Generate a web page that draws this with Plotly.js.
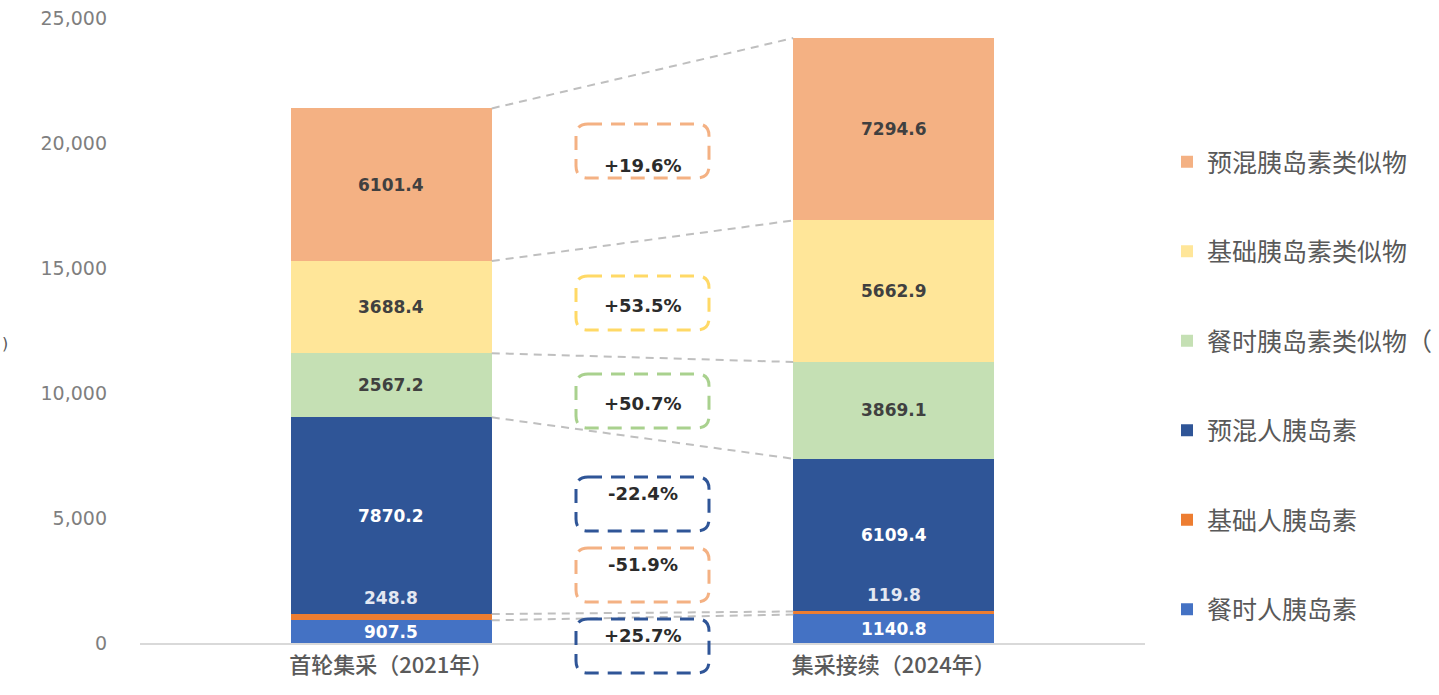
<!DOCTYPE html>
<html>
<head>
<meta charset="utf-8">
<script src="https://cdn.plot.ly/plotly-3.0.1.min.js"></script>
<style>html,body{margin:0;padding:0;background:#fff;}#chart{width:1439px;height:695px;}</style>
</head>
<body>
<div id="chart"></div>
<script>
// ---- data ----
const categories = ['首轮集采（2021年）', '集采接续（2024年）'];
const seriesNames = ['餐时人胰岛素', '基础人胰岛素', '预混人胰岛素', '餐时胰岛素类似物（', '基础胰岛素类似物', '预混胰岛素类似物'];
const mealHuman = [907.5, 1140.8];
const basalHuman = [248.8, 119.8];
const premixHuman = [7870.2, 6109.4];
const mealAnalog = [2567.2, 3869.1];
const basalAnalog = [3688.4, 5662.9];
const premixAnalog = [6101.4, 7294.6];
// change 2021 -> 2024 per series (%), as printed on the chart
const changePct = [25.7, -51.9, -22.4, 50.7, 53.5, 19.6];
const yTicks = [0, 5000, 10000, 15000, 20000, 25000];

// ---- styles ----
const colors = ['#4472C4', '#ED7D31', '#2F5597', '#C5E0B4', '#FFE699', '#F4B183'];
const boxColors = ['#2F5597', '#F4B183', '#2F5597', '#A9D18E', '#FFD966', '#F4B183'];
const labelColors = ['#FFFFFF', '#E4E8F2', '#FFFFFF', '#404040', '#404040', '#404040'];
const boxCentersPx = [646, 575, 504, 401, 303, 151]; // vertical pixel centres of the change boxes

const series = [mealHuman, basalHuman, premixHuman, mealAnalog, basalAnalog, premixAnalog];
const barWidth = 0.4;

// plot area geometry (pixels)
const M = {l: 140, r: 294, t: 18, b: 52};
const W = 1439, H = 695;
const PW = W - M.l - M.r, PH = H - M.t - M.b;
const pxToPaperY = py => (H - M.b - py) / PH;

const traces = series.map((vals, i) => ({
  type: 'bar',
  name: seriesNames[i],
  x: [0, 1],
  y: vals,
  width: barWidth,
  marker: {color: colors[i], line: {width: 0}},
  legendgroup: 'g' + i,
  legendrank: 100 - i,
  hoverinfo: 'skip'
}));

// cumulative tops
const cum = [];
let run = [0, 0];
series.forEach((vals, i) => {
  const bottoms = run.slice();
  run = run.map((r, k) => r + vals[k]);
  cum.push({bottom: bottoms, top: run.slice()});
});

const annotations = [];
// value labels
series.forEach((vals, i) => {
  vals.forEach((v, k) => {
    if (i === 1) {
      annotations.push({
        x: k, y: cum[i].top[k], xref: 'x', yref: 'y', yanchor: 'bottom', yshift: 4,
        text: v.toFixed(1), showarrow: false,
        font: {family: 'DejaVu Sans', size: 17, color: labelColors[i], weight: 'bold'}
      });
    } else {
      annotations.push({
        x: k, y: (cum[i].bottom[k] + cum[i].top[k]) / 2, xref: 'x', yref: 'y',
        text: v.toFixed(1), showarrow: false,
        font: {family: 'DejaVu Sans', size: 17, color: labelColors[i], weight: 'bold'}
      });
    }
  });
});

const shapes = [];
// connector lines between stacks
cum.forEach(c => {
  shapes.push({
    type: 'line', xref: 'x', yref: 'y',
    x0: barWidth / 2, x1: 1 - barWidth / 2, y0: c.top[0], y1: c.top[1],
    line: {color: '#BFBFBF', width: 2, dash: '8px,6px'}
  });
});

// change boxes
const boxW = 133, boxH = 54, rad = 12;
changePct.forEach((pct, i) => {
  const txt = (pct >= 0 ? '+' : '') + pct.toFixed(1) + '%';
  const cy = pxToPaperY(boxCentersPx[i]);
  const cx = 0.5;
  const hx = boxW / 2 / PW, hy = boxH / 2 / PH;
  const rx = rad / PW, ry = rad / PH;
  const xl = cx - hx, xr = cx + hx, yt = cy + hy, yb = cy - hy;
  const p = `M${xl + rx},${yt} L${xr - rx},${yt} Q${xr},${yt} ${xr},${yt - ry} L${xr},${yb + ry} Q${xr},${yb} ${xr - rx},${yb} L${xl + rx},${yb} Q${xl},${yb} ${xl},${yb + ry} L${xl},${yt - ry} Q${xl},${yt} ${xl + rx},${yt} Z`;
  shapes.push({
    type: 'path', xref: 'paper', yref: 'paper', path: p,
    line: {color: boxColors[i], width: 3, dash: '14px,9px'}
  });
  annotations.push({
    x: cx, y: cy, xref: 'paper', yref: 'paper', yshift: -2, text: txt, showarrow: false,
    font: {family: 'DejaVu Sans', size: 18, color: '#2B2B2B', weight: 'bold'}
  });
});

// cropped remnant of the y-axis title at the left edge
annotations.push({
  x: -M.l / PW, y: pxToPaperY(343), xref: 'paper', yref: 'paper', xanchor: 'left',
  text: ')', showarrow: false, font: {family: 'DejaVu Sans', size: 16, color: '#595959'}
});

const layout = {
  width: W, height: H,
  margin: M,
  paper_bgcolor: '#FFFFFF', plot_bgcolor: '#FFFFFF',
  barmode: 'stack',
  showlegend: true,
  xaxis: {
    range: [-0.5, 1.5], tickvals: [0, 1], ticktext: categories,
    showline: true, linecolor: '#D9D9D9', linewidth: 1.5,
    showgrid: false, zeroline: false, ticks: '', ticklabelstandoff: 2,
    tickfont: {family: 'Noto Sans CJK SC', size: 22, color: '#5A5A5A', weight: 500},
    fixedrange: true
  },
  yaxis: {
    range: [0, 25000], tickvals: yTicks, tickformat: ',',
    showgrid: false, zeroline: false, showline: false, ticks: '',
    ticklabelstandoff: 32,
    tickfont: {family: 'DejaVu Sans', size: 19, color: '#7F7F7F'},
    fixedrange: true
  },
  legend: {
    xref: 'container', yref: 'container',
    x: 1167 / W, y: 1 - 139 / H, xanchor: 'left', yanchor: 'top',
    traceorder: 'grouped', tracegroupgap: 54, maxheight: 650,
    font: {family: 'Noto Sans CJK SC', size: 25, color: '#595959'},
    bgcolor: 'rgba(0,0,0,0)'
  },
  annotations: annotations,
  shapes: shapes
};

Plotly.newPlot('chart', traces, layout, {displayModeBar: false, staticPlot: true});
</script>
</body>
</html>
